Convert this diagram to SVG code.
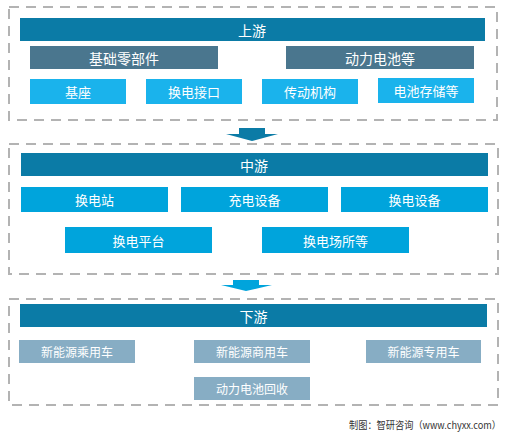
<svg xmlns="http://www.w3.org/2000/svg" width="514" height="440" viewBox="0 0 514 440">
<style>
.frame{fill:none;stroke:#b3b3b3;stroke-width:2;stroke-dasharray:10 7}
.hdr{fill:#0b7ba6}
.dk{fill:#4a768e}
.lt{fill:#1ab3ec}
.md{fill:#00a4dc}
.gy{fill:#87adc4}
text{font-family:"Noto Sans CJK SC","Liberation Sans",sans-serif;fill:#fff;text-anchor:middle;dominant-baseline:central}
.t14{font-size:14px}
.t13{font-size:13px}
.t12{font-size:12px}
.foot{font-size:10px;fill:#333;text-anchor:start;dominant-baseline:auto}
</style>
<rect width="514" height="440" fill="#fff"/>
<g id="frames">
<rect class="frame" x="9" y="7" width="488" height="113"/>
<rect class="frame" x="9" y="144" width="489" height="130"/>
<rect class="frame" x="9" y="299" width="489" height="106"/>
</g>
<g id="connectors">
<path fill="#0b7ba6" d="M239 128H265V134H278L252 141L226 134H239Z"/>
<path fill="#00a4dc" d="M233 280H259V285H272L246 291L221 285H233Z"/>
</g>
<g id="upstream">
<rect class="hdr" x="20" y="18" width="465" height="23"/><text class="t14" x="252" y="29.5">上游</text>
</g>
<g id="n-jichulingbujian"><rect class="dk" x="30" y="46" width="188" height="23"/><text class="t14" x="124" y="57.5">基础零部件</text></g>
<g id="n-donglidianchi"><rect class="dk" x="286" y="46" width="188" height="23"/><text class="t14" x="380" y="57.5">动力电池等</text></g>
<g id="n-jizuo"><rect class="lt" x="30" y="79" width="96" height="25"/><text class="t13" x="78" y="91.5">基座</text></g>
<g id="n-huandianjiekou"><rect class="lt" x="146" y="79" width="96" height="25"/><text class="t13" x="194" y="91.5">换电接口</text></g>
<g id="n-chuandong"><rect class="lt" x="262" y="79" width="96" height="25"/><text class="t13" x="310" y="91.5">传动机构</text></g>
<g id="n-dianchicunchu"><rect class="lt" x="378" y="78" width="96" height="25"/><text class="t13" x="426" y="90.5">电池存储等</text></g>
<g id="midstream">
<rect class="hdr" x="21" y="153" width="467" height="23"/><text class="t14" x="254" y="164.5">中游</text>
</g>
<g id="n-huandianzhan"><rect class="md" x="21" y="187" width="147" height="25"/><text class="t13" x="94.5" y="199.5">换电站</text></g>
<g id="n-chongdian"><rect class="md" x="181" y="187" width="147" height="25"/><text class="t13" x="254.5" y="199.5">充电设备</text></g>
<g id="n-huandianshebei"><rect class="md" x="341" y="187" width="147" height="25"/><text class="t13" x="414.5" y="199.5">换电设备</text></g>
<g id="n-pingtai"><rect class="md" x="65" y="227" width="147" height="26"/><text class="t13" x="138.5" y="240">换电平台</text></g>
<g id="n-changsuo"><rect class="md" x="262" y="227" width="147" height="26"/><text class="t13" x="335.5" y="240">换电场所等</text></g>
<g id="downstream">
<rect class="hdr" x="20" y="304" width="467" height="23"/><text class="t14" x="253.5" y="315.5">下游</text>
</g>
<g id="n-chengyong"><rect class="gy" x="19" y="340" width="116" height="23"/><text class="t12" x="77" y="351.5">新能源乘用车</text></g>
<g id="n-shangyong"><rect class="gy" x="194" y="340" width="116" height="23"/><text class="t12" x="252" y="351.5">新能源商用车</text></g>
<g id="n-zhuanyong"><rect class="gy" x="366" y="340" width="115" height="23"/><text class="t12" x="423.5" y="351.5">新能源专用车</text></g>
<g id="n-huishou"><rect class="gy" x="194" y="377" width="116" height="23"/><text class="t12" x="252" y="388.5">动力电池回收</text></g>
<text class="foot" x="349" y="429" textLength="152" lengthAdjust="spacingAndGlyphs">制图：智研咨询（www.chyxx.com）</text>
</svg>
